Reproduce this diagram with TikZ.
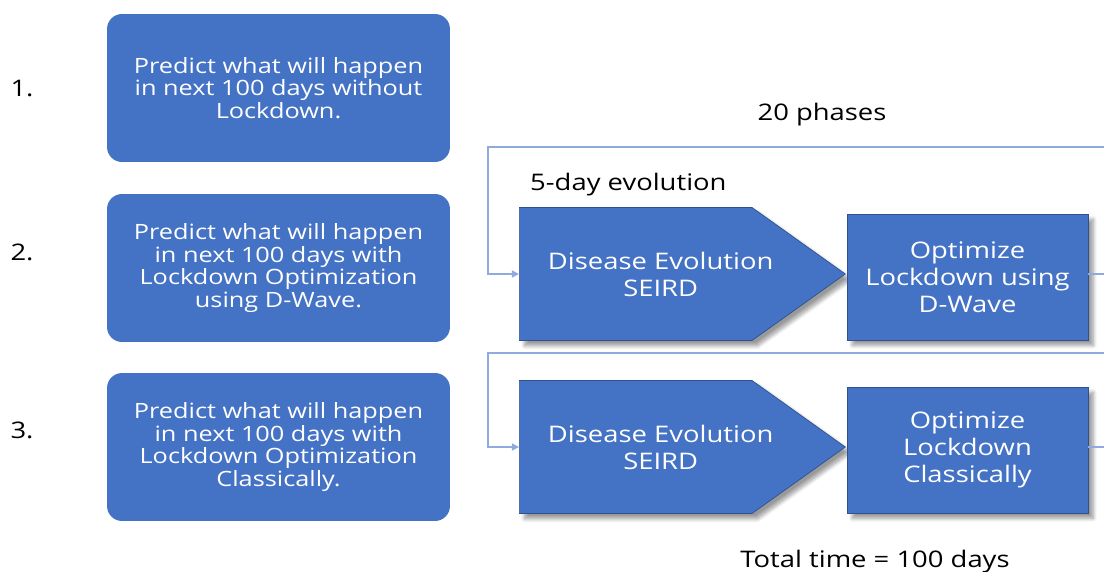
\documentclass[tikz,border=0pt]{standalone}
\usepackage{fontspec}
\setmainfont{Open Sans}[FakeStretch=1.2]
\usepackage{tikz}
\usetikzlibrary{positioning, shapes.symbols, arrows.meta, shadows.blur}
\definecolor{boxblue}{HTML}{4472C4}
\definecolor{edgeblue}{HTML}{2F528F}
\definecolor{loopblue}{HTML}{8FAADC}
\newcommand{\pentlines}[1]{\makebox[0pt]{\hspace{1cm}\raisebox{0pt}[\dimexpr\height+0.16cm\relax][\depth]{\begin{tabular}{@{}c@{}}#1\end{tabular}}}}
\tikzset{
	lefttext/.style={font=\fontsize{12}{13}\selectfont\color{white}}
}
\tikzset{
	flowtext/.style={font=\fontsize{13}{15.3}\selectfont\color{white}}
}
\tikzset{
	labeltext/.style={font=\fontsize{13}{15}\selectfont\color{black}}
}
\tikzset{
	leftbox/.style={fill=boxblue, rounded corners=0.3cm, minimum width=6.86cm, minimum height=2.96cm, align=center, lefttext}
}
\tikzset{
	pentbox/.style={signal, signal to=east, signal pointer angle=71, fill=boxblue, draw=edgeblue, thin, minimum width=6.52cm, minimum height=2.66cm, flowtext, blur shadow={shadow xshift=3pt, shadow yshift=-3pt, shadow blur steps=8}}
}
\tikzset{
	optbox/.style={rectangle, fill=boxblue, draw=edgeblue, thin, minimum width=4.82cm, minimum height=2.52cm, align=center, flowtext, blur shadow={shadow xshift=3pt, shadow yshift=-3pt, shadow blur steps=8}}
}
\tikzset{
	loopline/.style={draw=loopblue, line width=0.8pt}
}
\begin{document}
\begin{tikzpicture}[x=0.02cm, y=-0.02cm, >={Triangle[length=4pt, width=4pt]}]
      \useasboundingbox (0,0) rectangle (1104,571);
      % three ways of predicting
      \node[leftbox] (P1) at (278.5,88) {Predict what will happen\\in next 100 days without\\Lockdown.};
      \node[leftbox] (P2) at (278.5,268) {Predict what will happen\\in next 100 days with\\Lockdown Optimization\\using D-Wave.};
      \node[leftbox] (P3) at (278.5,447) {Predict what will happen\\in next 100 days with\\Lockdown Optimization\\Classically.};
      \node[labeltext] (N1) at (22,89) {1.};
      \node[labeltext] (N2) at (22,252) {2.};
      \node[labeltext] (N3) at (22,430) {3.};
      % phase loops
      \node[pentbox, anchor=west] (D1) at (519,274) {\pentlines{Disease Evolution\\SEIRD}};
      \node[optbox] (O1) at (967.5,277) {Optimize\\Lockdown using\\D-Wave};
      \node[pentbox, anchor=west] (D2) at (519,447) {\pentlines{Disease Evolution\\SEIRD}};
      \node[optbox] (O2) at (967.5,450) {Optimize\\Lockdown\\Classically};
      \node[labeltext] (L20) at (822,115) {20 phases};
      \node[labeltext, anchor=west] (L5) at (524,185) {5-day evolution};
      \node[labeltext] (LT) at (875,562) {Total time = 100 days};
      \coordinate (T1) at (1104,147);
      \coordinate (C1) at (488,147);
      \coordinate (E1) at (1104,274);
      \coordinate (T2) at (1104,353);
      \coordinate (C2) at (488,353);
      \coordinate (E2) at (1104,447);
      \draw[loopline] (O1.east |- E1) -- (E1);
      \draw[loopline, ->] (T1) -- (C1) |- (D1.west);
      \draw[loopline] (O2.east |- E2) -- (E2);
      \draw[loopline, ->] (T2) -- (C2) |- (D2.west);
    \end{tikzpicture}
\end{document}
